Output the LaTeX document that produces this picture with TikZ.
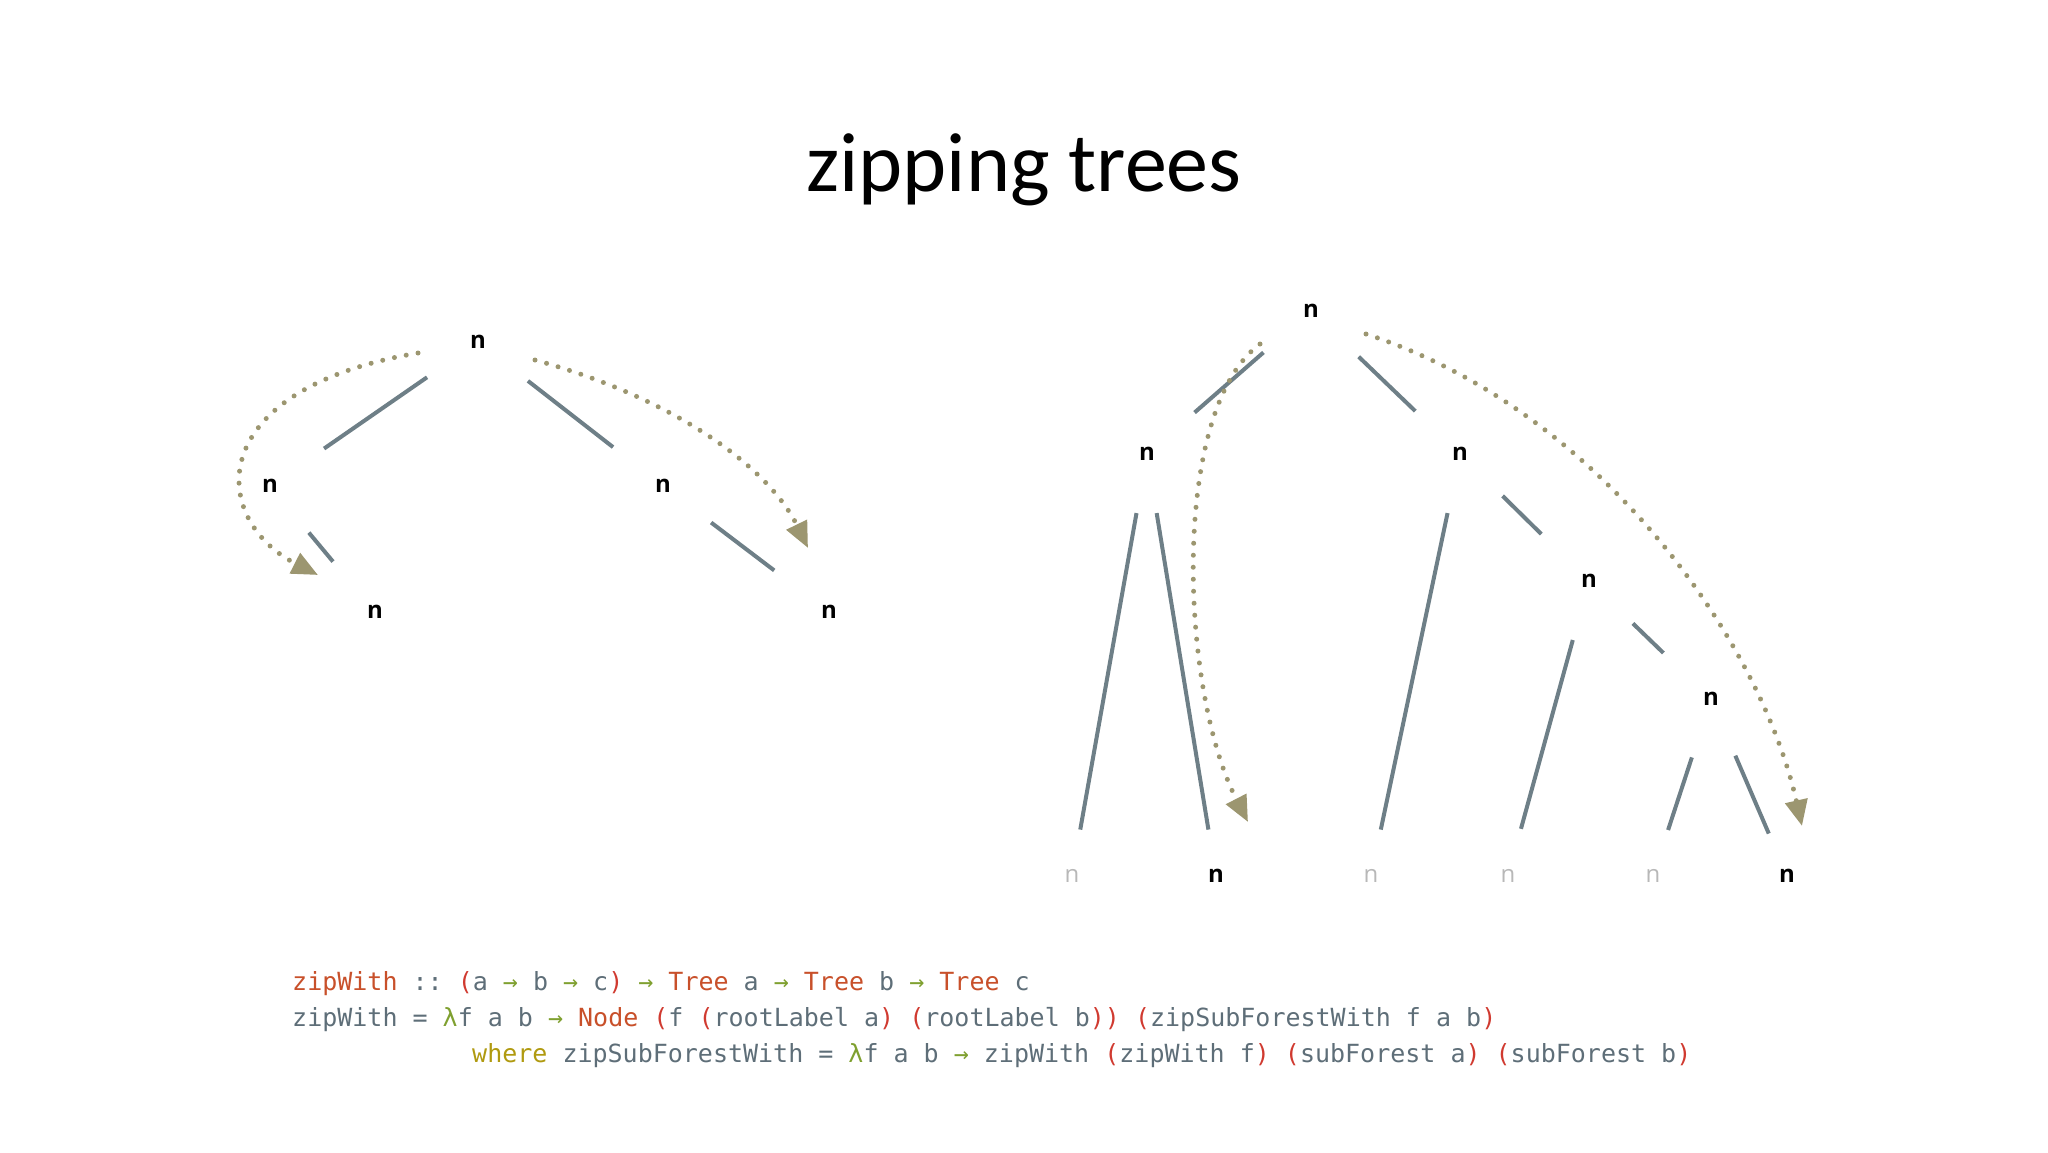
\documentclass[tikz,border=0pt]{standalone}
\usepackage{fontspec}
\setmainfont{Open Sans}
\setmonofont{DejaVu Sans Mono}
\newfontfamily\titlefont{Carlito}
\usetikzlibrary{calc,arrows.meta}
\definecolor{edgec}{HTML}{6E7F87}
\definecolor{arrc}{HTML}{9C9670}
\definecolor{kw}{HTML}{C8502A}
\definecolor{tx}{HTML}{5E6E78}
\definecolor{par}{HTML}{D03A30}
\definecolor{grn}{HTML}{7FA030}
\definecolor{whr}{HTML}{B09A10}
\definecolor{faint}{HTML}{B8B8B8}
\newcommand{\ar}{\textcolor{grn}{→}}
\newcommand{\lp}{\textcolor{par}{(}}
\newcommand{\rp}{\textcolor{par}{)}}
\begin{document}
\begin{tikzpicture}[x=1pt,y=-1pt,
  lbl/.style={font=\fontsize{24}{24}\selectfont\bfseries, inner sep=0},
  ghost/.style={lbl, text=faint, font=\fontsize{24}{24}\selectfont},
  edge/.style={draw=edgec, line width=4pt},
  flow/.style={draw=arrc, line width=5pt, line cap=round, dash pattern=on 0pt off 12pt,
    -{Triangle[length=26pt,width=22pt,fill=arrc]}},
  code/.style={anchor=base west, inner sep=0, text=tx, font=\ttfamily\fontsize{25}{25}\selectfont}]
\useasboundingbox (0,0) rectangle (2048,1152);
\node[font=\titlefont\fontsize{84}{84}\selectfont, inner sep=0] (title) at (1024,170) {zipping trees};
% left tree
\node[lbl] (r) at (478,342) {n};
\node[lbl] (a) at (270,486) {n};
\node[lbl] (b) at (663,486) {n};
\node[lbl] (a1) at (375,612) {n};
\node[lbl] (b1) at (829,612) {n};
\draw[edge] ($(r)!0.245!(a)$) -- ($(r)!0.74!(a)$);
\draw[edge] ($(r)!0.27!(b)$) -- ($(r)!0.73!(b)$);
\draw[edge] ($(a)!0.37!(a1)$) -- ($(a)!0.6!(a1)$);
\draw[edge] ($(b)!0.29!(b1)$) -- ($(b)!0.67!(b1)$);
\coordinate (s1) at (418,353); \coordinate (e1) at (318,575);
\coordinate (s2) at (535,360); \coordinate (e2) at (808,548);
\draw[flow] (s1) .. controls (200,390) and (210,520) .. (e1);
\draw[flow] (s2) .. controls (680,400) and (770,470) .. (e2);
% right tree
\node[lbl] (R) at (1311,311) {n};
\node[lbl] (A) at (1147,454) {n};
\node[lbl] (B) at (1460,454) {n};
\node[lbl] (C) at (1589,581) {n};
\node[lbl] (D) at (1711,699) {n};
\node[ghost] (L1) at (1072,876) {n};
\node[lbl] (L2) at (1216,876) {n};
\node[ghost] (L3) at (1371,876) {n};
\node[ghost] (L4) at (1508,876) {n};
\node[ghost] (L5) at (1653,876) {n};
\node[lbl] (L6) at (1787,876) {n};
\draw[edge] ($(R)!0.29!(A)$) -- ($(R)!0.71!(A)$);
\draw[edge] ($(R)!0.32!(B)$) -- ($(R)!0.7!(B)$);
\draw[edge] ($(A)!0.14!(L1)$) -- ($(A)!0.89!(L1)$);
\draw[edge] ($(A)!0.14!(L2)$) -- ($(A)!0.89!(L2)$);
\draw[edge] ($(B)!0.14!(L3)$) -- ($(B)!0.89!(L3)$);
\draw[edge] ($(B)!0.33!(C)$) -- ($(B)!0.63!(C)$);
\draw[edge] ($(C)!0.2!(L4)$) -- ($(C)!0.84!(L4)$);
\draw[edge] ($(C)!0.36!(D)$) -- ($(C)!0.61!(D)$);
\draw[edge] ($(D)!0.33!(L5)$) -- ($(D)!0.74!(L5)$);
\draw[edge] ($(D)!0.32!(L6)$) -- ($(D)!0.76!(L6)$);
\coordinate (s3) at (1260,344); \coordinate (e3) at (1248,822);
\coordinate (s4) at (1366,334); \coordinate (e4) at (1802,826);
\draw[flow] (s3) .. controls (1170,410) and (1180,690) .. (e3);
\draw[flow] (s4) .. controls (1600,410) and (1760,640) .. (e4);
% code
\node[code] (c1) at (292,990) {\textcolor{kw}{zipWith} :: \lp a \ar\ b \ar\ c\rp\ \ar\ \textcolor{kw}{Tree} a \ar\ \textcolor{kw}{Tree} b \ar\ \textcolor{kw}{Tree} c};
\node[code] (c2) at (292,1026) {zipWith = \textcolor{grn}{λ}f a b \ar\ \textcolor{kw}{Node} \lp f \lp rootLabel a\rp\ \lp rootLabel b\rp\rp\ \lp zipSubForestWith f a b\rp};
\node[code] (c3) at (472,1062) {\textcolor{whr}{where} zipSubForestWith = \textcolor{grn}{λ}f a b \ar\ zipWith \lp zipWith f\rp\ \lp subForest a\rp\ \lp subForest b\rp};
\end{tikzpicture}
\end{document}
